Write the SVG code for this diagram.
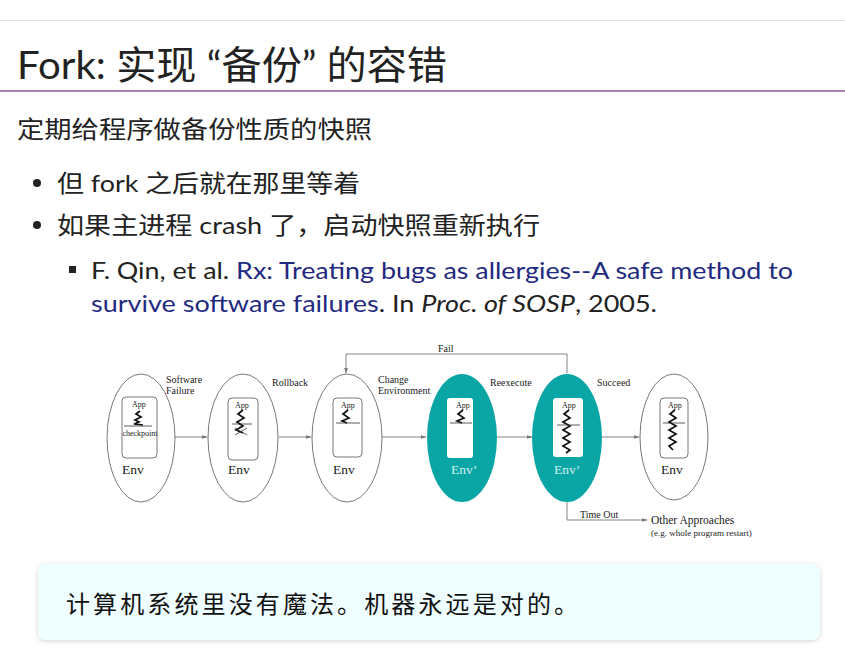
<svg xmlns="http://www.w3.org/2000/svg" width="845" height="665" viewBox="0 0 845 665">
  <style>
    .ui { font-family: Lato, "Noto Sans CJK SC", sans-serif; fill: #222; }
    .ref { fill: #1f2a80; }
    .tm { font-family: "Liberation Serif", "Times New Roman", serif; fill: #222; }
    .lbl { font-size: 10px; }
    .app { font-size: 8px; }
    .env { font-size: 13.5px; }
    .env2 { font-size: 13.5px; fill: #d0f0f0; }
    .oval { fill: #fff; stroke: #555; stroke-width: 0.8; }
    .oval2 { fill: #0aa6a6; stroke: none; }
    .box { fill: #fff; stroke: #555; stroke-width: 0.8; }
    .zig { fill: none; stroke: #111; stroke-width: 1.7; stroke-linejoin: miter; }
    .mark { stroke: #333; stroke-width: 0.8; }
    .wire { fill: none; stroke: #777; stroke-width: 0.9; }
  </style>
  <defs>
    <marker id="arr" markerWidth="6" markerHeight="6" refX="5.5" refY="3" orient="auto" markerUnits="userSpaceOnUse">
      <path d="M0,1 L6,3 L0,5 Z" fill="#777"/>
    </marker>
    <filter id="shadow" x="-5%" y="-30%" width="110%" height="160%">
      <feGaussianBlur in="SourceAlpha" stdDeviation="2.5"/>
      <feOffset dx="0" dy="1" result="b"/>
      <feFlood flood-color="#000" flood-opacity="0.18"/>
      <feComposite in2="b" operator="in"/>
      <feMerge><feMergeNode/><feMergeNode in="SourceGraphic"/></feMerge>
    </filter>
  </defs>

  <rect width="845" height="665" fill="#fff"/>

  <!-- header -->
  <line x1="0" y1="20.5" x2="845" y2="20.5" stroke="#e4e4e4" stroke-width="1"/>
  <text class="ui" x="17" y="79" font-size="39" textLength="430" lengthAdjust="spacingAndGlyphs">Fork: 实现 “备份” 的容错</text>
  <line x1="0" y1="91" x2="845" y2="91" stroke="#8a5a8a" stroke-width="1.5"/>

  <!-- body text -->
  <text class="ui" x="17" y="138" font-size="24" textLength="355" lengthAdjust="spacingAndGlyphs">定期给程序做备份性质的快照</text>
  <circle cx="37" cy="183" r="4" fill="#222"/>
  <text class="ui" x="57" y="192" font-size="24" textLength="303" lengthAdjust="spacingAndGlyphs">但 fork 之后就在那里等着</text>
  <circle cx="37" cy="225" r="4" fill="#222"/>
  <text class="ui" x="57" y="234" font-size="24" textLength="483" lengthAdjust="spacingAndGlyphs">如果主进程 crash 了，启动快照重新执行</text>
  <rect x="69" y="266" width="7" height="7" fill="#222"/>
  <text class="ui" x="91" y="279" font-size="24" textLength="702" lengthAdjust="spacingAndGlyphs">F. Qin, et al. <tspan class="ref">Rx: Treating bugs as allergies--A safe method to</tspan></text>
  <text class="ui" x="91" y="312" font-size="24" textLength="566" lengthAdjust="spacingAndGlyphs"><tspan class="ref">survive software failures</tspan>. In <tspan font-style="italic">Proc. of SOSP</tspan>, 2005.</text>

  <!-- recovery flow -->
  <g id="connectors">
    <line class="wire" x1="175" y1="437" x2="207" y2="437" marker-end="url(#arr)"/>
    <line class="wire" x1="279" y1="437" x2="311" y2="437" marker-end="url(#arr)"/>
    <line class="wire" x1="382" y1="437" x2="426" y2="437" marker-end="url(#arr)"/>
    <line class="wire" x1="497" y1="437" x2="532" y2="437" marker-end="url(#arr)"/>
    <line class="wire" x1="602" y1="437" x2="639" y2="437" marker-end="url(#arr)"/>
    <polyline class="wire" points="567,373 567,354 346,354 346,373" marker-end="url(#arr)"/>
    <polyline class="wire" points="567,502 567,520 647,520" marker-end="url(#arr)"/>
    <text class="tm lbl" x="166" y="383">Software</text>
    <text class="tm lbl" x="166" y="394">Failure</text>
    <text class="tm lbl" x="272" y="386">Rollback</text>
    <text class="tm lbl" x="378" y="383">Change</text>
    <text class="tm lbl" x="378" y="394">Environment</text>
    <text class="tm lbl" x="490" y="386">Reexecute</text>
    <text class="tm lbl" x="597" y="386">Succeed</text>
    <text class="tm lbl" x="438" y="352">Fail</text>
    <text class="tm lbl" x="580" y="518">Time Out</text>
  </g>

  <g id="checkpoint">
    <ellipse class="oval" cx="141" cy="438" rx="34" ry="64"/>
    <rect class="box" x="122" y="397" width="35" height="61" rx="4"/>
    <text class="tm app" x="132" y="407">App</text>
    <polyline class="zig" points="140,411 136,414 141,417 135,420 139,422 134,424 143,425"/>
    <line class="mark" x1="124" y1="426" x2="152" y2="426"/>
    <text class="tm app" x="140" y="436" text-anchor="middle">checkpoint</text>
    <text class="tm env" x="122" y="474">Env</text>
  </g>

  <g id="failure">
    <ellipse class="oval" cx="243" cy="438" rx="35" ry="64"/>
    <rect class="box" x="228" y="398" width="30" height="62" rx="4"/>
    <text class="tm app" x="235" y="408">App</text>
    <polyline class="zig" points="243,410 238,414 244,418 237,422 243,426 236,430 243,433"/>
    <line class="mark" x1="232" y1="424" x2="252" y2="424"/>
    <line class="mark" x1="235" y1="428" x2="247" y2="435"/>
    <line class="mark" x1="247" y1="428" x2="235" y2="435"/>
    <text class="tm env" x="228" y="474">Env</text>
  </g>

  <g id="rollback">
    <ellipse class="oval" cx="347" cy="438" rx="35" ry="64"/>
    <rect class="box" x="333" y="398" width="29" height="59" rx="4"/>
    <text class="tm app" x="341" y="408">App</text>
    <polyline class="zig" points="348,410 343,414 349,418 342,421 347,423"/>
    <line class="mark" x1="336" y1="423" x2="360" y2="423"/>
    <text class="tm env" x="333" y="474">Env</text>
  </g>

  <g id="new-env">
    <ellipse class="oval2" cx="462" cy="438" rx="35" ry="64"/>
    <rect x="447" y="398" width="26" height="60" rx="3" fill="#fff"/>
    <text class="tm app" x="456" y="408">App</text>
    <polyline class="zig" points="463,410 458,414 464,418 457,421 462,423"/>
    <line class="mark" x1="450" y1="423" x2="472" y2="423"/>
    <text class="tm env2" x="451" y="474">Env’</text>
  </g>

  <g id="reexecute">
    <ellipse class="oval2" cx="567" cy="438" rx="35" ry="64"/>
    <rect x="553" y="398" width="30" height="59" rx="3" fill="#fff"/>
    <text class="tm app" x="562" y="408">App</text>
    <polyline class="zig" points="569,410 564,414 570,418 563,422 570,426 563,430 570,434 563,438 570,442 563,446 570,450 566,453"/>
    <line class="mark" x1="557" y1="425" x2="580" y2="425"/>
    <text class="tm env2" x="554" y="474">Env’</text>
  </g>

  <g id="success">
    <ellipse class="oval" cx="674" cy="437" rx="34" ry="63"/>
    <rect class="box" x="660" y="398" width="28" height="60" rx="4"/>
    <text class="tm app" x="668" y="408">App</text>
    <polyline class="zig" points="675,410 670,414 676,418 669,422 676,426 669,430 676,434 669,438 676,442 669,446 673,450"/>
    <line class="mark" x1="663" y1="423" x2="685" y2="423"/>
    <text class="tm env" x="661" y="474">Env</text>
  </g>

  <g id="other">
    <text class="tm" x="651" y="524" font-size="11.5">Other Approaches</text>
    <text class="tm" x="651" y="536" font-size="9">(e.g. whole program restart)</text>
  </g>

  <!-- quote box -->
  <rect x="38" y="564" width="782" height="76" rx="8" fill="#effefe" filter="url(#shadow)"/>
  <text x="66" y="613" font-family="'Noto Sans CJK SC', sans-serif" font-size="24" fill="#111" textLength="512" lengthAdjust="spacing">计算机系统里没有魔法。机器永远是对的。</text>
</svg>
